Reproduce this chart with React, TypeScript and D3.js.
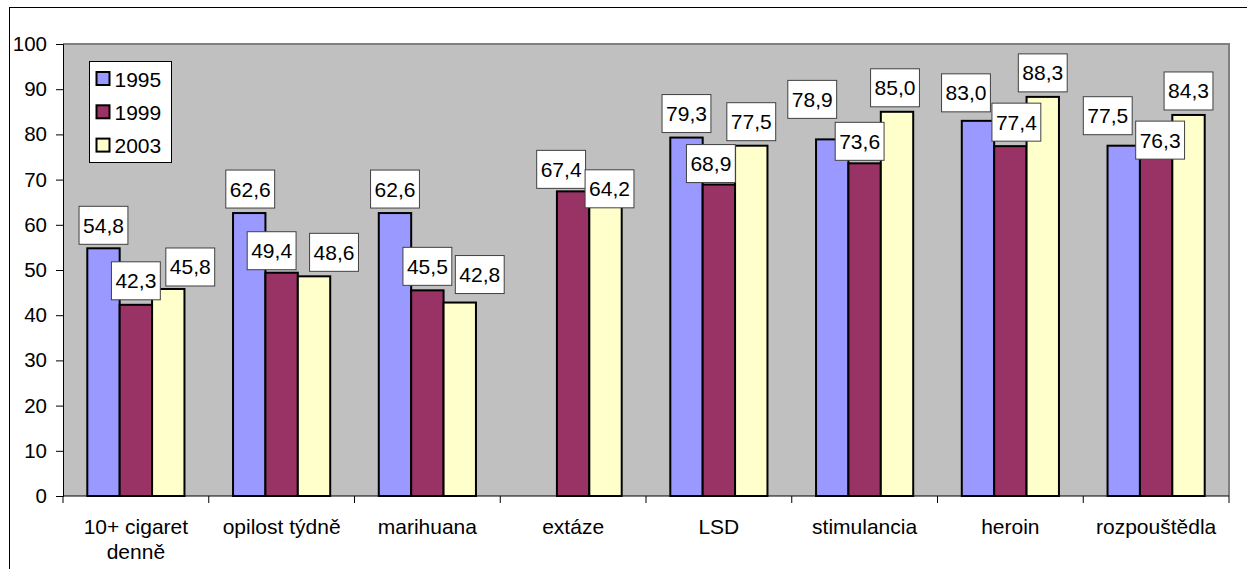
import { useEffect, useRef } from "react";
import * as d3 from "d3";

const categories = [
  "10+ cigaret denně",
  "opilost týdně",
  "marihuana",
  "extáze",
  "LSD",
  "stimulancia",
  "heroin",
  "rozpouštědla",
];
const years = ["1995", "1999", "2003"];
const values1995: (number | null)[] = [54.8, 62.6, 62.6, null, 79.3, 78.9, 83.0, 77.5];
const values1999: (number | null)[] = [42.3, 49.4, 45.5, 67.4, 68.9, 73.6, 77.4, 76.3];
const values2003: (number | null)[] = [45.8, 48.6, 42.8, 64.2, 77.5, 85.0, 88.3, 84.3];
const yTicks = [0, 10, 20, 30, 40, 50, 60, 70, 80, 90, 100];

// hand-placed label offsets (px) as in the original chart, per series
const nudge1995 = [[0, 1], [1, 0], [0, 0], [0, 0], [0, 0], [-20, -16], [-12, -4], [-16, -6]];
const nudge1999 = [[0, 0], [-10, 2], [0, 0], [-12, 2], [-8, 3], [-5, 2], [6, 0], [4, 13]];
const nudge2003 = [[22, 2], [20, 0], [20, -4], [4, 7], [0, 0], [-2, 0], [0, 0], [0, 0]];

const colors = ["#9999FF", "#993366", "#FFFFCC"];
const FONT = "'Liberation Sans', Arial, sans-serif";

export default function App() {
  const ref = useRef<SVGSVGElement>(null);

  useEffect(() => {
    if (!ref.current) return;
    const svg = d3.select(ref.current);
    svg.selectAll("*").remove();

    const left = 63;
    const right = 1229;
    const top = 44;
    const bottom = 496;

    const series = [values1995, values1999, values2003];
    const nudges = [nudge1995, nudge1999, nudge2003];

    // outer chart frame
    svg
      .append("rect")
      .attr("x", 9.5)
      .attr("y", 7.5)
      .attr("width", 1260)
      .attr("height", 600)
      .attr("fill", "#ffffff")
      .attr("stroke", "#000000")
      .attr("stroke-width", 1);

    const x0 = d3
      .scaleBand()
      .domain(categories)
      .range([left, right])
      .paddingInner(1 / 3)
      .paddingOuter(1 / 6);
    const x1 = d3.scaleBand().domain(years).range([0, x0.bandwidth()]);
    const y = d3.scaleLinear().domain([0, 100]).range([bottom, top]);

    // plot area
    svg
      .append("rect")
      .attr("x", left)
      .attr("y", top)
      .attr("width", right - left)
      .attr("height", bottom - top)
      .attr("fill", "#C0C0C0");
    svg
      .append("path")
      .attr("d", `M${left},${top}H${right}V${bottom}`)
      .attr("fill", "none")
      .attr("stroke", "#808080")
      .attr("stroke-width", 2);

    // bars
    series.forEach((vals, si) => {
      svg
        .append("g")
        .selectAll("rect")
        .data(categories.map((c, i) => ({ c, v: vals[i] })).filter((d) => d.v != null))
        .enter()
        .append("rect")
        .attr("x", (d) => (x0(d.c) || 0) + (x1(years[si]) || 0))
        .attr("y", (d) => y(d.v as number))
        .attr("width", x1.bandwidth())
        .attr("height", (d) => bottom - y(d.v as number))
        .attr("fill", colors[si])
        .attr("stroke", "#000000")
        .attr("stroke-width", 2);
    });

    // y axis
    const yAxis = svg
      .append("g")
      .attr("transform", `translate(${left},0)`)
      .call(d3.axisLeft(y).tickValues(yTicks).tickSize(7).tickPadding(9));
    yAxis.select(".domain").attr("stroke", "#000000");
    yAxis.selectAll("line").attr("stroke", "#000000");
    yAxis
      .selectAll("text")
      .attr("font-family", FONT)
      .attr("font-size", 20.5)
      .attr("fill", "#000000");

    // x axis
    const xAxis = svg.append("g").attr("transform", `translate(0,${bottom})`);
    xAxis
      .append("line")
      .attr("x1", left)
      .attr("x2", right)
      .attr("stroke", "#000000");
    const step = x0.step();
    d3.range(categories.length + 1).forEach((i) => {
      xAxis
        .append("line")
        .attr("x1", left + i * step)
        .attr("x2", left + i * step)
        .attr("y1", 0)
        .attr("y2", 7)
        .attr("stroke", "#000000");
    });
    categories.forEach((c) => {
      const cx = (x0(c) || 0) + x0.bandwidth() / 2;
      const t = xAxis
        .append("text")
        .attr("x", cx)
        .attr("y", 38)
        .attr("text-anchor", "middle")
        .attr("font-family", FONT)
        .attr("font-size", 21)
        .attr("fill", "#000000");
      // wrap to category step width
      const words = c.split(" ");
      let line: string[] = [];
      let tspan = t.append("tspan").attr("x", cx).attr("dy", 0);
      words.forEach((w) => {
        line.push(w);
        tspan.text(line.join(" "));
        const node = tspan.node() as SVGTSpanElement;
        if (node.getComputedTextLength() > step - 4 && line.length > 1) {
          line.pop();
          tspan.text(line.join(" "));
          line = [w];
          tspan = t.append("tspan").attr("x", cx).attr("dy", 25).text(w);
        }
      });
    });

    // data labels
    const fmt = (v: number) => d3.format(".1f")(v).replace(".", ",");
    series.forEach((vals, si) => {
      vals.forEach((v, i) => {
        if (v == null) return;
        const cx = (x0(categories[i]) || 0) + (x1(years[si]) || 0) + x1.bandwidth() / 2 + nudges[si][i][0];
        const boxBottom = y(v) - 5 + nudges[si][i][1];
        const g = svg.append("g");
        const rect = g.append("rect");
        const text = g
          .append("text")
          .attr("x", cx)
          .attr("y", boxBottom - 11.5)
          .attr("text-anchor", "middle")
          .attr("font-family", FONT)
          .attr("font-size", 21)
          .attr("fill", "#000000")
          .text(fmt(v));
        const w = (text.node() as SVGTextElement).getComputedTextLength() + 8;
        rect
          .attr("x", cx - w / 2)
          .attr("y", boxBottom - 38)
          .attr("width", w)
          .attr("height", 38)
          .attr("fill", "#ffffff")
          .attr("stroke", "#404040")
          .attr("stroke-width", 1);
      });
    });

    // legend
    const legend = svg.append("g").attr("transform", "translate(89.5,61.5)");
    legend
      .append("rect")
      .attr("width", 82)
      .attr("height", 101)
      .attr("fill", "#ffffff")
      .attr("stroke", "#000000");
    years.forEach((yr, i) => {
      const cy = 17.5 + i * 33.3;
      legend
        .append("rect")
        .attr("x", 7)
        .attr("y", cy - 7)
        .attr("width", 13)
        .attr("height", 13)
        .attr("fill", colors[i])
        .attr("stroke", "#000000")
        .attr("stroke-width", 2);
      legend
        .append("text")
        .attr("x", 25)
        .attr("y", cy + 7.5)
        .attr("font-family", FONT)
        .attr("font-size", 21)
        .attr("fill", "#000000")
        .text(yr);
    });
  }, []);

  return (
    <div style={{ position: "absolute", left: 0, top: 0 }}>
      <svg ref={ref} width={1247} height={569} style={{ display: "block" }} />
    </div>
  );
}
